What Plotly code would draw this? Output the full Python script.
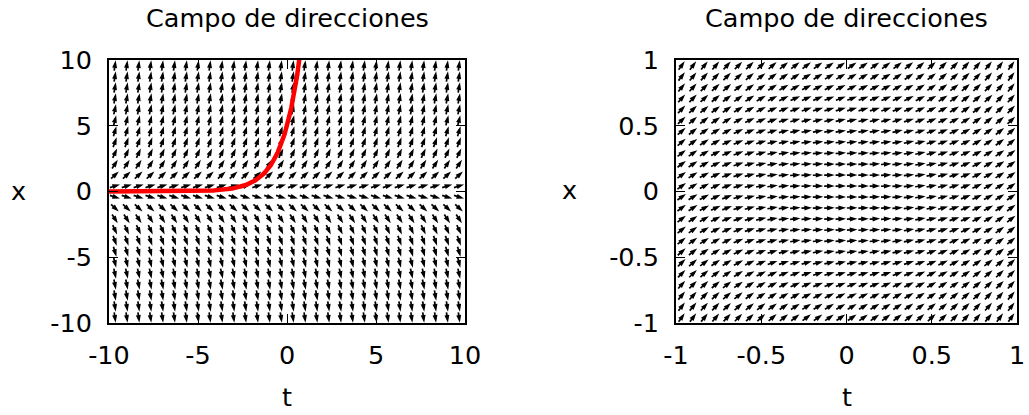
import numpy as np
import plotly.graph_objects as go

# ---- figure geometry (pixels) ----
W, H = 1029, 415
LEFT_BOX = (109, 465, 60, 323)    # x0, x1, y_top, y_bottom
RIGHT_BOX = (676, 1017, 60, 323)

# ---- data ----
# left panel: x' = x on [-10,10]^2, solution through x(0) = 5
left_range = [-10, 10]
left_ticks = [-10, -5, 0, 5, 10]
left_ticktext = ["-10", "-5", "0", "5", "10"]
left_x0 = 5.0

# right panel: x' = t^2 + x^2 on [-1,1]^2
right_range = [-1, 1]
right_ticks = [-1, -0.5, 0, 0.5, 1]
right_ticktext = ["-1", "-0.5", "0", "0.5", "1"]

# sampling grid of the direction field (cells across / down)
n_cols = 30
n_rows = 24

title_text = "Campo de direcciones"
xlabel = "t"
ylabel = "x"

FONT = "DejaVu Sans"
FS = 25.5
ARROW_LEN = 10.5   # px
HEAD_SIZE = 8


def f_left(t, x):
    return x


def f_right(t, x):
    return t ** 2 + x ** 2


def field_traces(f, rng, box, xa, ya):
    x0p, x1p, ytp, ybp = box
    kx = (x1p - x0p) / (rng[1] - rng[0])
    ky = (ybp - ytp) / (rng[1] - rng[0])
    step_t = (rng[1] - rng[0]) / n_cols
    step_x = (rng[1] - rng[0]) / n_rows
    ts = rng[0] + (np.arange(n_cols) + 0.5) * step_t
    xs = rng[0] + (np.arange(n_rows) + 0.5) * step_x
    T, X = np.meshgrid(ts, xs)
    S = f(T, X)
    dxp = np.ones_like(S) * kx
    dyp = S * ky
    norm = np.hypot(dxp, dyp)
    ux, uy = dxp / norm, dyp / norm
    half = ARROW_LEN / 2
    tail_t = T - ux * half / kx
    tail_x = X - uy * half / ky
    tip_t = T + ux * half / kx
    tip_x = X + uy * half / ky
    shaft_end_t = T + ux * (half - 3.5) / kx
    shaft_end_x = X + uy * (half - 3.5) / ky

    lx, ly = [], []
    for a, b, c, d in zip(tail_t.ravel(), tail_x.ravel(),
                          shaft_end_t.ravel(), shaft_end_x.ravel()):
        lx += [a, c, None]
        ly += [b, d, None]
    angles = np.degrees(np.arctan2(ux, uy)).ravel()

    shafts = go.Scatter(x=lx, y=ly, mode="lines",
                        line=dict(color="black", width=1.7),
                        hoverinfo="skip", showlegend=False,
                        xaxis=xa, yaxis=ya)
    heads = go.Scatter(x=tip_t.ravel(), y=tip_x.ravel(), mode="markers",
                       marker=dict(symbol="arrow", size=HEAD_SIZE,
                                   angle=angles, color="black",
                                   line=dict(width=0)),
                       hoverinfo="skip", showlegend=False,
                       xaxis=xa, yaxis=ya)
    return [shafts, heads]


fig = go.Figure()
for tr in field_traces(f_left, left_range, LEFT_BOX, "x", "y"):
    fig.add_trace(tr)
for tr in field_traces(f_right, right_range, RIGHT_BOX, "x2", "y2"):
    fig.add_trace(tr)

# solution curve on the left panel
t_sol = np.linspace(-10, 10, 800)
x_sol = left_x0 * np.exp(t_sol)
x_sol = np.where(x_sol > 12, np.nan, x_sol)
fig.add_trace(go.Scatter(x=t_sol, y=x_sol, mode="lines",
                         line=dict(color="#ff0000", width=4.5),
                         hoverinfo="skip", showlegend=False,
                         xaxis="x", yaxis="y"))


def dom(box):
    x0p, x1p, ytp, ybp = box
    return [x0p / W, x1p / W], [1 - ybp / H, 1 - ytp / H]


def axis(rng, ticks, text, domain, anchor, standoff):
    return dict(range=rng, domain=domain, anchor=anchor, automargin=False,
                tickmode="array", tickvals=ticks, ticktext=text,
                ticks="inside", ticklen=9, tickwidth=1.2, tickcolor="black",
                showline=True, linewidth=2, linecolor="black", mirror="ticks",
                showgrid=False, zeroline=False,
                tickfont=dict(family=FONT, size=FS, color="black"),
                ticklabelstandoff=standoff, fixedrange=True)


ldx, ldy = dom(LEFT_BOX)
rdx, rdy = dom(RIGHT_BOX)

fig.update_layout(
    template="none",
    width=W, height=H,
    margin=dict(l=0, r=0, t=0, b=0, autoexpand=False),
    paper_bgcolor="white", plot_bgcolor="white",
    xaxis=axis(left_range, left_ticks, left_ticktext, ldx, "y", 8),
    yaxis=axis(left_range, left_ticks, left_ticktext, ldy, "x", 10),
    xaxis2=axis(right_range, right_ticks, right_ticktext, rdx, "y2", 8),
    yaxis2=axis(right_range, right_ticks, right_ticktext, rdy, "x2", 10),
)


def label(text, px, py):
    fig.add_annotation(text=text, x=px / W, y=1 - py / H,
                       xref="paper", yref="paper", showarrow=False,
                       xanchor="center", yanchor="middle",
                       font=dict(family=FONT, size=FS, color="black"))


for box in (LEFT_BOX, RIGHT_BOX):
    cx = (box[0] + box[1]) / 2
    label(title_text, cx, 18)
    label(xlabel, cx, 397)
label(ylabel, 18, 191)
label(ylabel, 569, 190)

fig.write_html("out.html")
